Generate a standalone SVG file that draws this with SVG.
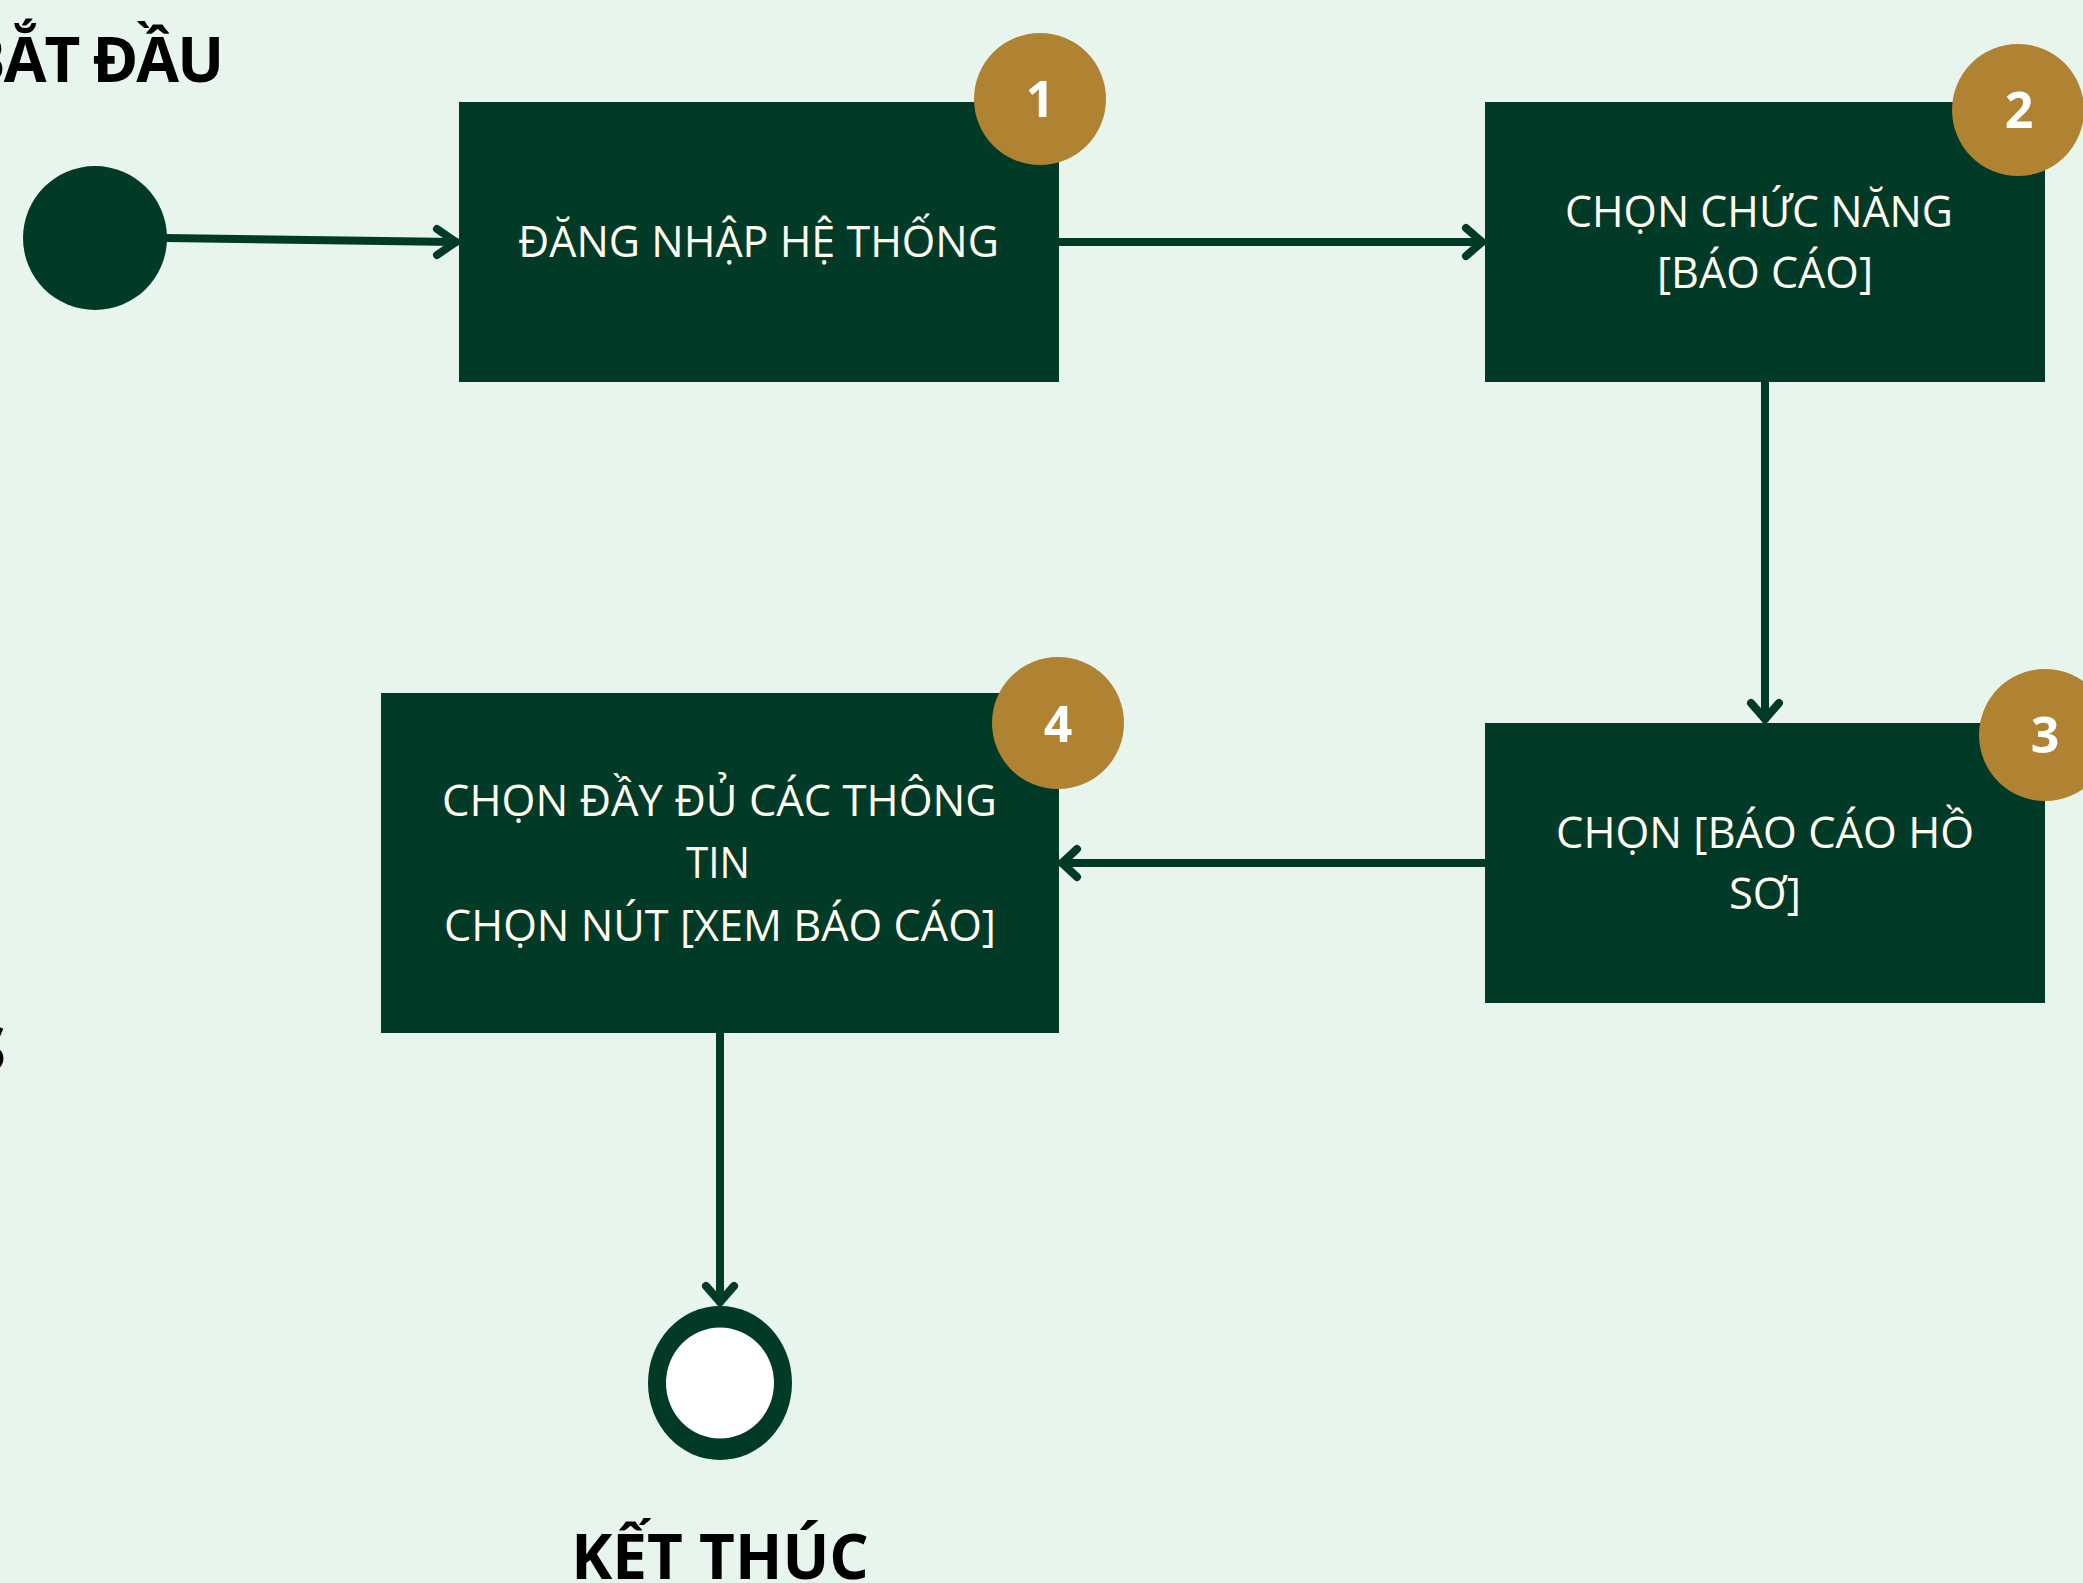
<svg xmlns="http://www.w3.org/2000/svg" width="2083" height="1583" viewBox="0 0 2083 1583">
<defs>
<style>
.bg{fill:#e8f5ec}
.box{fill:#023a28}
.badge{fill:#b08332}
.num{font-family:"Open Sans","Noto Sans",sans-serif;font-weight:700;font-size:50px;fill:#ffffff;text-anchor:middle}
.lbl{font-family:"Open Sans","Noto Sans",sans-serif;font-weight:400;font-size:44px;fill:#fffbee}
.title{font-family:"Open Sans","Noto Sans",sans-serif;font-weight:700;font-size:62px;fill:#000000}
.edge{fill:none;stroke:#023a28;stroke-width:8;stroke-linecap:round;stroke-linejoin:round}
</style>
</defs>
<rect class="bg" x="0" y="0" width="2083" height="1583"/>

<g id="connectors">
<path class="edge" d="M166,238 L456,242"/>
<path class="edge" d="M437,229 L456,242 L437,255"/>
<path class="edge" d="M1059,242 L1482,242"/>
<path class="edge" d="M1466,228 L1482,242 L1466,256"/>
<path class="edge" d="M1765,382 L1765,719"/>
<path class="edge" d="M1751,703 L1765,719 L1779,703"/>
<path class="edge" d="M1485,863 L1062,863"/>
<path class="edge" d="M1077,849 L1062,863 L1077,877"/>
<path class="edge" d="M720,1033 L720,1302"/>
<path class="edge" d="M706,1286 L720,1302 L734,1286"/>
</g>

<g id="start">
<circle cx="95" cy="238" r="72" fill="#023a28"/>
<text class="title" x="222" y="82" text-anchor="end" letter-spacing="-2">BẮT ĐẦU</text>
</g>

<g id="node1">
<rect class="box" x="459" y="102" width="600" height="280"/>
<text class="lbl" x="518" y="257" textLength="481" lengthAdjust="spacingAndGlyphs">ĐĂNG NHẬP HỆ THỐNG</text>
<circle class="badge" cx="1040" cy="99" r="66"/>
<text class="num" x="1040" y="117">1</text>
</g>

<g id="node2">
<rect class="box" x="1485" y="102" width="560" height="280"/>
<text class="lbl" x="1565" y="227" textLength="388" lengthAdjust="spacingAndGlyphs">CHỌN CHỨC NĂNG</text>
<text class="lbl" x="1657" y="288" textLength="216" lengthAdjust="spacingAndGlyphs">[BÁO CÁO]</text>
<circle class="badge" cx="2018" cy="110" r="66"/>
<text class="num" x="2019" y="128">2</text>
</g>

<g id="node3">
<rect class="box" x="1485" y="723" width="560" height="280"/>
<text class="lbl" x="1556" y="848" textLength="418" lengthAdjust="spacingAndGlyphs">CHỌN [BÁO CÁO HỒ</text>
<text class="lbl" x="1729" y="909" textLength="72" lengthAdjust="spacingAndGlyphs">SƠ]</text>
<circle class="badge" cx="2045" cy="735" r="66"/>
<text class="num" x="2045" y="753">3</text>
</g>

<g id="node4">
<rect class="box" x="381" y="693" width="678" height="340"/>
<text class="lbl" x="442" y="816" textLength="555" lengthAdjust="spacingAndGlyphs">CHỌN ĐẦY ĐỦ CÁC THÔNG</text>
<text class="lbl" x="686" y="878" textLength="64" lengthAdjust="spacingAndGlyphs">TIN</text>
<text class="lbl" x="444" y="941" textLength="552" lengthAdjust="spacingAndGlyphs">CHỌN NÚT [XEM BÁO CÁO]</text>
<circle class="badge" cx="1058" cy="723" r="66"/>
<text class="num" x="1058" y="742">4</text>
</g>

<g id="end">
<ellipse cx="720" cy="1383" rx="72" ry="77" fill="#023a28"/>
<ellipse cx="720" cy="1383" rx="54" ry="55.5" fill="#ffffff"/>
<text class="title" x="720" y="1579" text-anchor="middle">KẾT THÚC</text>
</g>

<text class="title" x="6" y="1071" text-anchor="end">S</text>
</svg>
